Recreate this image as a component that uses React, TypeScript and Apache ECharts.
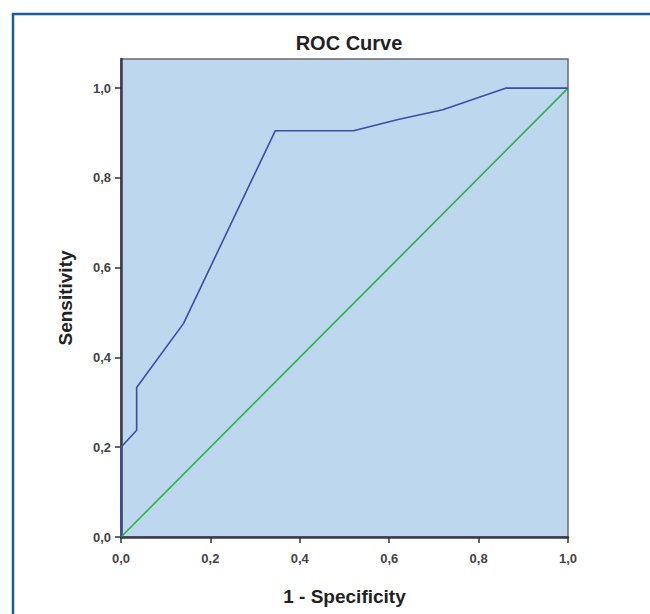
import React, { useEffect, useRef } from "react";
import * as echarts from "echarts";

const rocX = [0, 0, 0.035, 0.035, 0.14, 0.345, 0.52, 0.62, 0.72, 0.86, 1.0];
const rocY = [0, 0.2, 0.238, 0.333, 0.476, 0.905, 0.905, 0.93, 0.952, 1.0, 1.0];
const refX = [0, 1];
const refY = [0, 1];
const tickValues = [0, 0.2, 0.4, 0.6, 0.8, 1.0];
const titleText = "ROC Curve";
const xTitle = "1 - Specificity";
const yTitle = "Sensitivity";

const fmt = (v: number) => v.toFixed(1).replace(".", ",");

export default function App() {
  const ref = useRef<HTMLDivElement>(null);
  useEffect(() => {
    if (!ref.current) return;
    const chart = echarts.init(ref.current, null, { renderer: "svg" });
    const font = "'Liberation Sans', Arial, sans-serif";
    chart.setOption({
      animation: false,
      backgroundColor: "#ffffff",
      title: {
        text: titleText,
        left: 344,
        top: 28,
        textAlign: "center",
        textStyle: { fontFamily: font, fontSize: 20, fontWeight: "bold", color: "#222" },
      },
      graphic: [
        {
          type: "rect",
          shape: { x: 13, y: 14, width: 700, height: 700 },
          style: { fill: "none", stroke: "#1b5d99", lineWidth: 2.5 },
          silent: true,
        },
      ],
      grid: {
        left: 121,
        top: 59,
        right: 82,
        bottom: 77,
        show: true,
        backgroundColor: "#bdd7ef",
        borderColor: "#6a6a6a",
        borderWidth: 1.5,
      },
      xAxis: {
        type: "value",
        min: 0,
        max: 1,
        interval: 0.2,
        name: xTitle,
        nameLocation: "middle",
        nameGap: 50,
        nameTextStyle: { fontFamily: font, fontSize: 19, fontWeight: "bold", color: "#222" },
        splitLine: { show: false },
        axisLine: { show: true, lineStyle: { color: "#3a3a4a", width: 2.5 } },
        axisTick: { show: true, length: 6, lineStyle: { color: "#333", width: 1.5 }, customValues: tickValues },
        axisLabel: {
          customValues: tickValues,
          formatter: (v: number) => fmt(v),
          fontFamily: font,
          fontSize: 13,
          fontWeight: "bold",
          color: "#444",
          margin: 15,
        },
      },
      yAxis: {
        type: "value",
        min: 0,
        max: 1.065,
        interval: 0.2,
        name: yTitle,
        nameLocation: "middle",
        nameGap: 46,
        nameTextStyle: { fontFamily: font, fontSize: 19, fontWeight: "bold", color: "#222" },
        splitLine: { show: false },
        axisLine: { show: true, lineStyle: { color: "#3a3a4a", width: 2.5 } },
        axisTick: { show: true, length: 6, lineStyle: { color: "#333", width: 1.5 }, customValues: tickValues },
        axisLabel: {
          customValues: tickValues,
          formatter: (v: number) => fmt(v),
          fontFamily: font,
          fontSize: 13,
          fontWeight: "bold",
          color: "#444",
          margin: 10,
        },
      },
      series: [
        {
          type: "line",
          name: "Reference",
          data: refX.map((x, i) => [x, refY[i]]),
          showSymbol: false,
          lineStyle: { color: "#2db04b", width: 1.6 },
          z: 2,
        },
        {
          type: "line",
          name: "ROC",
          data: rocX.map((x, i) => [x, rocY[i]]),
          showSymbol: false,
          lineStyle: { color: "#3b4ea6", width: 1.6 },
          z: 3,
        },
      ],
    });
    return () => chart.dispose();
  }, []);
  return (
    <div
      ref={ref}
      style={{ position: "absolute", left: 0, top: 0, width: 650, height: 614 }}
    />
  );
}
